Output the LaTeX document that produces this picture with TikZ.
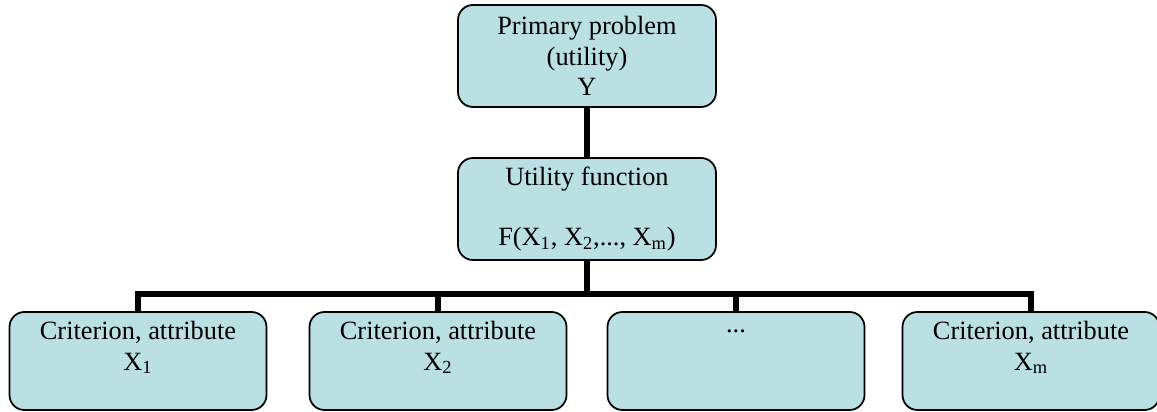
\documentclass[tikz,border=0pt]{standalone}
\usepackage{fontspec}
\setmainfont{Liberation Serif}
\usetikzlibrary{positioning}
\definecolor{boxteal}{HTML}{BBE0E3}

\begin{document}
\begin{tikzpicture}[
every node/.style={font=\fontsize{15}{17.2}\selectfont},
block/.style={draw=black,line width=1pt,rounded corners=8.5pt,fill=boxteal,
minimum width=5.16cm,minimum height=2.04cm,align=center,inner sep=0pt},
crit/.style={block,minimum width=5.14cm,minimum height=1.96cm},
link/.style={line width=3.3pt}
]
\useasboundingbox (0,0) rectangle (23.14,-8.24);
\node[block] (prob) at (11.74,-1.12) {Primary problem\\(utility)\\Y};
\node[block] (func) at (11.74,-4.18) {Utility function\\~\\F(X\textsubscript{1}, X\textsubscript{2},..., X\textsubscript{m})};
\node[crit] (c1) at (2.76,-7.22)  {Criterion, attribute\\X\textsubscript{1}\\~};
\node[crit] (c2) at (8.76,-7.22)  {Criterion, attribute\\X\textsubscript{2}\\~};
\node[crit] (c3) at (14.72,-7.22) {...\\~\\~};
\node[crit] (cm) at (20.62,-7.22) {Criterion, attribute\\X\textsubscript{m}\\~};
\coordinate (bar) at (11.74,-5.88);
\draw[link] (prob) -- (func); \draw[link] (func.south) -- (bar);
\draw[link] (c1.north) |- (bar) -| (cm.north);
\draw[link] (c2.north) -- (c2.north |- bar); \draw[link] (c3.north) -- (c3.north |- bar);
\end{tikzpicture}
\end{document}
